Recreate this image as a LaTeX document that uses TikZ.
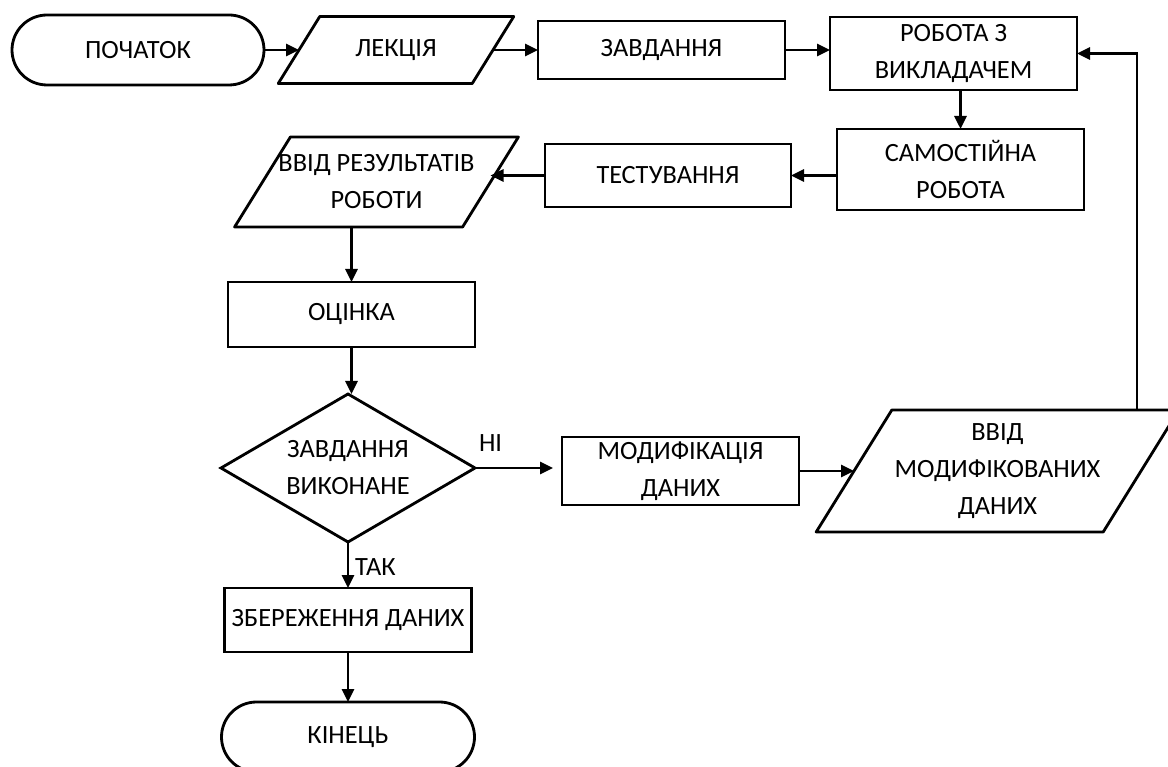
\documentclass[tikz,border=0pt]{standalone}
\usepackage{fontspec}
\setmainfont{Carlito}
\usepackage{tikz}
\usetikzlibrary{arrows.meta, calc, positioning, shapes}

\begin{document}
\begin{tikzpicture}[
    font=\fontsize{15}{21}\selectfont,
    every node/.style={align=center, outer sep=0pt},
    block/.style={draw, line width=1.6pt, minimum width=49.4mm, minimum height=#1, inner sep=1pt},
    term/.style={draw, line width=1.6pt, rounded corners=7mm, minimum height=14mm},
    io/.style 2 args={minimum width=#1, minimum height=#2, inner sep=0pt,
        append after command={\pgfextra{
            \draw[line width=1.6pt, line join=round]
                ($(\tikzlastnode.south west)+(-0.31*#2,0)$) --
                ($(\tikzlastnode.north west)+(0.31*#2,0)$) --
                ($(\tikzlastnode.north east)+(0.31*#2,0)$) --
                ($(\tikzlastnode.south east)+(-0.31*#2,0)$) -- cycle;}}},
    decision/.style={draw, diamond, line width=1.6pt, aspect=1.72,
                     minimum width=50.8mm, minimum height=29.6mm, inner sep=0pt},
    arrow/.style={-{Triangle[length=2.6mm, width=2.4mm]}, line width=1.6pt},
    tag/.style={inner sep=0pt},
]
\useasboundingbox (0,0) rectangle (233.6mm,-153.4mm);
\clip (0,0) rectangle (233.6mm,-153.4mm);

% top row
\node[term, minimum width=50.4mm] (start) at (27.6mm,-10mm) {ПОЧАТОК};
\node[io={38.8mm}{13.4mm}, right=7mm of start] (lecture) {ЛЕКЦІЯ};
\node[block=11.6mm, right=9mm of lecture] (task) {ЗАВДАННЯ};
\node[block=14.6mm, right=9mm of task, yshift=-0.7mm] (teacher) {РОБОТА З\\ВИКЛАДАЧЕМ};
\draw[arrow] (start) -- (lecture);
\draw[arrow] (lecture) -- (task);
\draw[arrow] (task.east) -- (task.east -| teacher.west);

% second row
\node[block=16.2mm, below=7.8mm of teacher, xshift=1.4mm] (selfwork) {САМОСТІЙНА\\РОБОТА};
\node[block=12.6mm, minimum width=49.2mm, left=9.2mm of selfwork, yshift=-1.2mm] (testing) {ТЕСТУВАННЯ};
\node[io={45.6mm}{18mm}, left=10.9mm of testing, yshift=-1.3mm] (results) {ВВІД РЕЗУЛЬТАТІВ\\РОБОТИ};
\draw[arrow] (selfwork.north |- teacher.south) -- (selfwork.north);
\draw[arrow] (selfwork.west |- testing.east) -- (testing.east);
\draw[arrow] (testing.west) -- (testing.west -| results.east);

% check
\node[block=13mm, below=11mm of results, xshift=-5mm] (grade) {ОЦІНКА};
\node[decision, below=9.4mm of grade, xshift=-0.7mm] (check) {ЗАВДАННЯ\\ВИКОНАНЕ};
\draw[arrow] (grade.north |- results.south) -- (grade.north);
\draw[arrow] (grade.south) -- (grade.south |- check.north);

% modification loop
\node[block=13.6mm, minimum width=47.4mm, right=17.4mm of check, yshift=-0.6mm] (modify) {МОДИФІКАЦІЯ\\ДАНИХ};
\node[io={57.4mm}{24.4mm}, right=11mm of modify] (moddata) {ВВІД\\МОДИФІКОВАНИХ\\ДАНИХ};
\draw[arrow, shorten >=1.8mm] (check.east) --
    node[tag, pos=0, anchor=south west, xshift=0.8mm, yshift=3.3mm] {НІ}
    (modify.west |- check.east);
\draw[arrow] (modify) -- (moddata);
\coordinate (back) at ($(moddata.north east)+(-0.8mm,0)$);
\draw[arrow] (back) |- (teacher.east);

% end
\node[block=12.8mm, below=9.2mm of check] (save) {ЗБЕРЕЖЕННЯ ДАНИХ};
\node[term, minimum width=50.6mm, below=10mm of save] (stop) {КІНЕЦЬ};
\draw[arrow] (check.south) --
    node[tag, pos=0, anchor=south west, xshift=1.4mm, yshift=-6.7mm] {ТАК}
    (save.north);
\draw[arrow] (save) -- (stop);
\end{tikzpicture}
\end{document}
